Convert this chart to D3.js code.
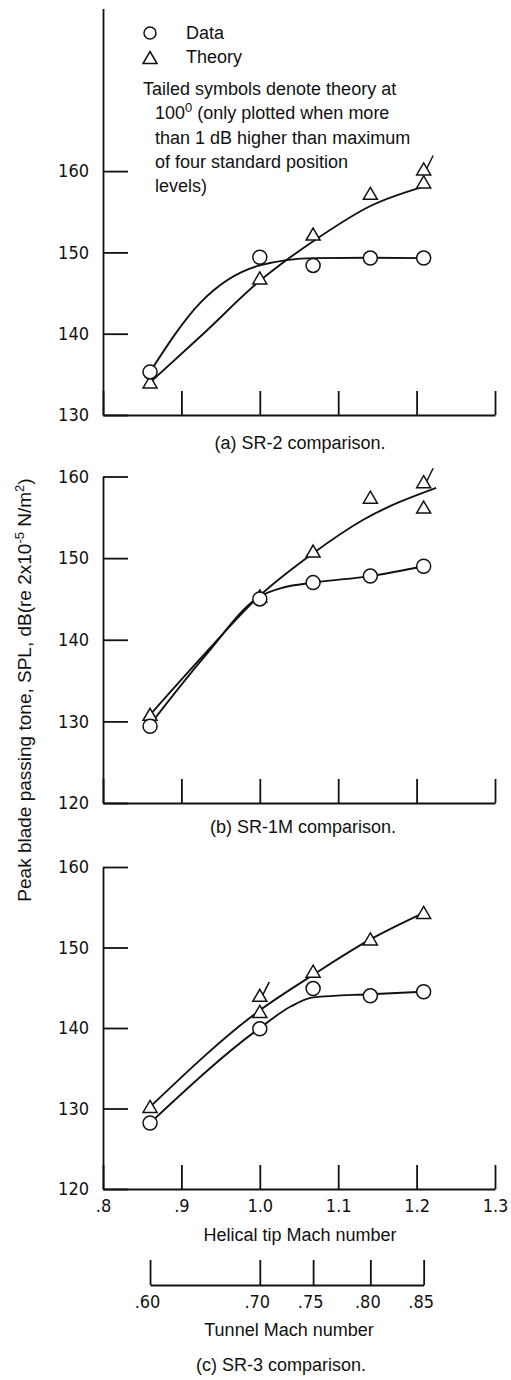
<!DOCTYPE html>
<html lang="en">
<head>
<meta charset="UTF-8">
<script src="https://d3js.org/d3.v7.min.js"></script>
<title>Blade passing tone comparison</title>
<style>
  body { margin: 0; background: #fff; }
  text { font-family: "Liberation Sans", Arial, sans-serif; font-size: 18px; fill: #111; }
  .num text, text.num { font-family: "Liberation Sans Narrow", "DejaVu Sans Condensed", sans-serif; font-size: 18px; }
</style>
</head>
<body>
<script>
// test points: helical tip Mach number and the matching tunnel Mach number
var helicalMach = [0.86, 1.0, 1.068, 1.141, 1.209];
var tunnelMach = [0.60, 0.70, 0.75, 0.80, 0.85];
var helicalTicks = [0.8, 0.9, 1.0, 1.1, 1.2, 1.3];
var helicalLabels = [".8", ".9", "1.0", "1.1", "1.2", "1.3"];
var tunnelLabels = [".60", ".70", ".75", ".80", ".85"];

// (a) SR-2
var sr2Data = [135.3, 149.4, 148.4, 149.3, 149.3];
var sr2Theory = [134.0, 146.8, 152.2, 157.2, 158.6];
var sr2Tailed = [[1.209, 160.2]];
var sr2DataFair = [[0.86, 135.3], [0.924, 143.8], [1.0, 148.4], [1.07, 149.3], [1.14, 149.35], [1.209, 149.3]];
var sr2TheoryFair = [[0.86, 134.0], [0.928, 140], [1.0, 146.5], [1.07, 151.5], [1.143, 155.8], [1.209, 158.1]];

// (b) SR-1M
var sr1mData = [129.4, 145.0, 147.0, 147.8, 149.0];
var sr1mTheory = [130.8, 145.3, 150.8, 157.4, 156.2];
var sr1mTailed = [[1.209, 159.3]];
var sr1mDataFair = [[0.86, 129.6], [0.93, 138.0], [1.0, 145.3], [1.03, 146.4], [1.068, 147.0], [1.141, 147.8], [1.209, 149.0]];
var sr1mTheoryFair = [[0.86, 130.8], [0.93, 138.3], [1.0, 145.4], [1.068, 150.6], [1.132, 154.7], [1.225, 158.6]];

// (c) SR-3
var sr3Data = [128.2, 139.9, 144.9, 144.0, 144.5];
var sr3Theory = [130.2, 142.0, 147.0, 151.0, 154.3];
var sr3Tailed = [[1.0, 144.0]];
var sr3DataFair = [[0.86, 128.2], [1.0, 140.0], [1.04, 142.7], [1.068, 143.8], [1.141, 144.2], [1.209, 144.5]];
var sr3TheoryFair = [[0.86, 130.2], [1.0, 142.2], [1.068, 146.6], [1.141, 151.0], [1.209, 154.3]];

var width = 511, height = 1380;

var svg = d3.select("body").append("svg")
    .attr("width", width)
    .attr("height", height);

var x = d3.scaleLinear().domain([0.8, 1.3]).range([103, 495]);

var panels = [
  {data: sr2Data, theory: sr2Theory, tailed: sr2Tailed, dataFair: sr2DataFair, theoryFair: sr2TheoryFair,
   yDomain: [130, 180], yRange: [415, 8.5], yTicks: [130, 140, 150, 160],
   caption: "(a) SR-2 comparison.", captionX: 300, captionY: 449, xLabels: false},
  {data: sr1mData, theory: sr1mTheory, tailed: sr1mTailed, dataFair: sr1mDataFair, theoryFair: sr1mTheoryFair,
   yDomain: [120, 160], yRange: [803, 476.5], yTicks: [120, 130, 140, 150, 160],
   caption: "(b) SR-1M comparison.", captionX: 303, captionY: 833, xLabels: false},
  {data: sr3Data, theory: sr3Theory, tailed: sr3Tailed, dataFair: sr3DataFair, theoryFair: sr3TheoryFair,
   yDomain: [120, 160], yRange: [1189, 867], yTicks: [120, 130, 140, 150, 160],
   caption: "(c) SR-3 comparison.", captionX: 281, captionY: 1371, xLabels: true}
];

function triangle(cx, cy) {
  return "M" + cx + "," + (cy - 6.5) + "L" + (cx + 7) + "," + (cy + 5.5) + "L" + (cx - 7) + "," + (cy + 5.5) + "Z";
}

function styleAxis(g) {
  g.selectAll(".domain, .tick line").attr("stroke", "#111").attr("stroke-width", 1.8);
  g.selectAll("text").attr("fill", "#111").attr("font-size", null).attr("font-family", null);
}

panels.forEach(function(p) {
  var y = d3.scaleLinear().domain(p.yDomain).range(p.yRange);
  var g = svg.append("g");

  // y axis, ticks pointing into the plot
  g.append("g")
      .attr("class", "num")
      .attr("transform", "translate(" + x(0.8) + ",0)")
      .call(d3.axisLeft(y).tickValues(p.yTicks).tickSize(-25).tickSizeOuter(0).tickPadding(14).tickFormat(d3.format("d")))
      .call(styleAxis);

  // helical tip Mach axis, ticks pointing up
  var xAxis = d3.axisBottom(x).tickValues(helicalTicks).tickSize(-24).tickSizeOuter(0).tickPadding(8)
      .tickFormat(function(d, i) { return p.xLabels ? helicalLabels[i] : ""; });
  var xg = g.append("g")
      .attr("class", "num")
      .attr("transform", "translate(0," + y(p.yDomain[0]) + ")")
      .call(xAxis)
      .call(styleAxis);
  xg.selectAll(".tick text").attr("dy", "0.85em");

  var fairLine = d3.line()
      .x(function(d) { return x(d[0]); })
      .y(function(d) { return y(d[1]); })
      .curve(d3.curveMonotoneX);

  // faired curves
  [p.dataFair, p.theoryFair].forEach(function(f) {
    g.append("path")
        .attr("d", fairLine(f))
        .attr("fill", "none")
        .attr("stroke", "#111")
        .attr("stroke-width", 1.9);
  });

  // tails on the 100 degree theory symbols
  g.selectAll(".tail").data(p.tailed).enter().append("line")
      .attr("x1", function(d) { return x(d[0]) + 3; })
      .attr("y1", function(d) { return y(d[1]) - 1; })
      .attr("x2", function(d) { return x(d[0]) + 9.5; })
      .attr("y2", function(d) { return y(d[1]) - 14; })
      .attr("stroke", "#111")
      .attr("stroke-width", 1.5);

  // theory symbols
  var tri = p.theory.map(function(v, i) { return [helicalMach[i], v]; }).concat(p.tailed);
  g.selectAll(".tri").data(tri).enter().append("path")
      .attr("d", function(d) { return triangle(x(d[0]), y(d[1])); })
      .attr("fill", "#fff")
      .attr("stroke", "#111")
      .attr("stroke-width", 1.5);

  // measured data symbols
  g.selectAll(".dot").data(p.data).enter().append("circle")
      .attr("cx", function(d, i) { return x(helicalMach[i]); })
      .attr("cy", function(d) { return y(d); })
      .attr("r", 7)
      .attr("fill", "#fff")
      .attr("stroke", "#111")
      .attr("stroke-width", 1.5);

  g.append("text")
      .attr("x", p.captionX)
      .attr("y", p.captionY)
      .attr("text-anchor", "middle")
      .text(p.caption);
});

// tunnel Mach number scale under the last panel
var tunnel = d3.scaleLinear().domain(tunnelMach).range(helicalMach.map(x));
svg.append("g")
    .attr("class", "num")
    .attr("transform", "translate(0,1285)")
    .call(d3.axisBottom(tunnel).tickValues(tunnelMach).tickSize(-25).tickSizeOuter(0).tickPadding(8)
        .tickFormat(function(d, i) { return tunnelLabels[i]; }))
    .call(styleAxis)
    .selectAll(".tick text").attr("dy", "0.85em").attr("dx", -3);

svg.append("text").attr("x", 300).attr("y", 1241).attr("text-anchor", "middle").text("Helical tip Mach number");
svg.append("text").attr("x", 289).attr("y", 1336).attr("text-anchor", "middle").text("Tunnel Mach number");

// y axis title
var yTitle = svg.append("text")
    .attr("transform", "translate(31,690) rotate(-90)")
    .attr("text-anchor", "middle")
    .style("font-size", "19px");
yTitle.append("tspan").text("Peak blade passing tone,  SPL,  dB(re 2x10");
yTitle.append("tspan").attr("dy", -7).style("font-size", "13px").text("-5");
yTitle.append("tspan").attr("dy", 7).text(" N/m");
yTitle.append("tspan").attr("dy", -7).style("font-size", "13px").text("2");
yTitle.append("tspan").attr("dy", 7).text(")");

// legend and note in the first panel
var legend = svg.append("g");
legend.append("circle").attr("cx", 150).attr("cy", 33).attr("r", 6).attr("fill", "#fff").attr("stroke", "#111").attr("stroke-width", 1.5);
legend.append("text").attr("x", 186).attr("y", 39).text("Data");
legend.append("path").attr("d", triangle(150, 58)).attr("fill", "#fff").attr("stroke", "#111").attr("stroke-width", 1.5);
legend.append("text").attr("x", 186).attr("y", 63).text("Theory");

var note = [
  {x: 143, t: "Tailed symbols denote theory at"},
  {x: 155, t: "100"},
  {x: 155, t: "than 1 dB higher than maximum"},
  {x: 155, t: "of four standard position"},
  {x: 155, t: "levels)"}
];
note.forEach(function(n, i) {
  var t = legend.append("text").attr("x", n.x).attr("y", 95 + i * 24.3).text(n.t);
  if (i === 1) {
    t.append("tspan").attr("dy", -7).style("font-size", "13px").text("0");
    t.append("tspan").attr("dy", 7).text(" (only plotted when more");
  }
});
</script>
</body>
</html>
